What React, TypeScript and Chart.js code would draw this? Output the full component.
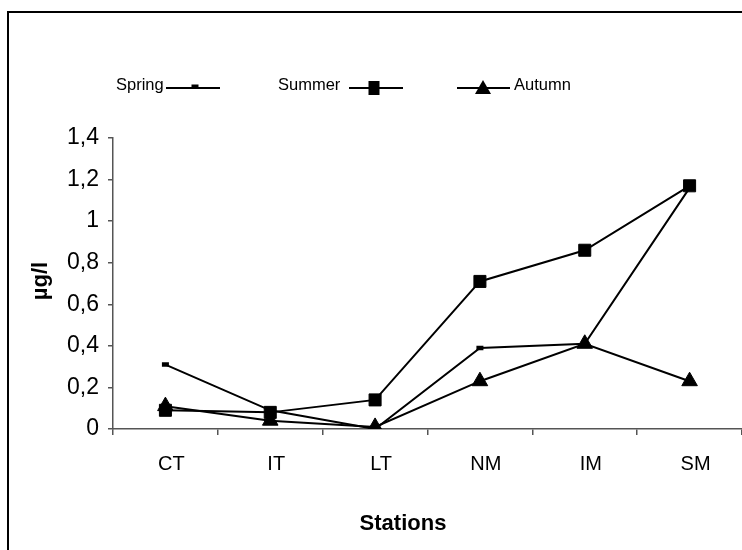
import React, { useEffect, useRef } from "react";
import { Chart, registerables } from "chart.js";

Chart.register(...registerables);

const stations = ["CT", "IT", "LT", "NM", "IM", "SM"];
const springValues = [0.31, 0.09, 0.0, 0.39, 0.41, 1.16];
const summerValues = [0.09, 0.08, 0.14, 0.71, 0.86, 1.17];
const autumnValues = [0.11, 0.04, 0.01, 0.23, 0.41, 0.23];
const seriesNames = ["Spring", "Summer", "Autumn"];
const yTickValues = [0, 0.2, 0.4, 0.6, 0.8, 1, 1.2, 1.4];
const yTitle = "µg/l";
const xTitle = "Stations";

const FONT = "'Liberation Sans', Arial, sans-serif";

const legendLayout = [
  { textX: 116, lineFrom: 166, lineTo: 220, markerX: 195 },
  { textX: 278, lineFrom: 349, lineTo: 403, markerX: 374 },
  { textX: 514, lineFrom: 457, lineTo: 510, markerX: 483 },
];

function drawMarker(ctx: CanvasRenderingContext2D, style: string, x: number, y: number) {
  ctx.save();
  ctx.fillStyle = "#000";
  if (style === "line") {
    ctx.fillRect(x - 3.5, y - 2.5, 7, 4);
  } else if (style === "rect") {
    ctx.fillRect(x - 5.5, y - 7, 11, 14);
  } else if (style === "triangle") {
    ctx.beginPath();
    ctx.moveTo(x, y - 8);
    ctx.lineTo(x + 8, y + 6);
    ctx.lineTo(x - 8, y + 6);
    ctx.closePath();
    ctx.fill();
  }
  ctx.restore();
}

const customDecor = {
  id: "customDecor",
  afterDraw(chart: any) {
    const ctx: CanvasRenderingContext2D = chart.ctx;
    ctx.save();
    // legend
    const ly = 88;
    ctx.font = `16.5px ${FONT}`;
    ctx.textBaseline = "middle";
    ctx.fillStyle = "#000";
    chart.data.datasets.forEach((ds: any, i: number) => {
      const l = legendLayout[i];
      ctx.textAlign = "left";
      ctx.fillText(ds.label, l.textX, ly - 3);
      ctx.strokeStyle = "#000";
      ctx.lineWidth = 2;
      ctx.beginPath();
      ctx.moveTo(l.lineFrom, ly);
      ctx.lineTo(l.lineTo, ly);
      ctx.stroke();
      drawMarker(ctx, ds.pointStyle, l.markerX, ly - (ds.pointStyle === "line" ? 1 : 0));
    });
    // axis titles
    ctx.fillStyle = "#000";
    ctx.font = `bold 22px ${FONT}`;
    ctx.textAlign = "center";
    ctx.textBaseline = "middle";
    ctx.save();
    ctx.translate(41, 281);
    ctx.rotate(-Math.PI / 2);
    ctx.fillText(yTitle, 0, 0);
    ctx.restore();
    ctx.font = `bold 22px ${FONT}`;
    ctx.fillText(xTitle, 403, 524);
    ctx.restore();
  },
};

export default function App() {
  const ref = useRef<HTMLCanvasElement | null>(null);
  useEffect(() => {
    if (!ref.current) return;
    const common = {
      borderColor: "#000",
      backgroundColor: "#000",
      borderWidth: 2,
      pointBackgroundColor: "#000",
      pointBorderColor: "#000",
      tension: 0,
    };
    const chart = new Chart(ref.current, {
      type: "line",
      data: {
        labels: stations,
        datasets: [
          { ...common, label: seriesNames[0], data: springValues, pointStyle: "line", pointRadius: 3.5, pointBorderWidth: 4.5 },
          { ...common, label: seriesNames[1], data: summerValues, pointStyle: "rect", pointRadius: 8.5, pointBorderWidth: 1 },
          { ...common, label: seriesNames[2], data: autumnValues, pointStyle: "triangle", pointRadius: 9, pointBorderWidth: 1 },
        ],
      },
      options: {
        responsive: false,
        animation: false,
        devicePixelRatio: 1,
        layout: { autoPadding: false, padding: { top: 138, left: 0, right: 0, bottom: 0 } },
        plugins: { legend: { display: false }, tooltip: { enabled: false }, title: { display: false } },
        scales: {
          x: {
            type: "category",
            offset: true,
            afterFit: (s: any) => { s.height = 121; s.paddingLeft = 0; s.paddingRight = 0; },
            grid: { offset: true, drawOnChartArea: false, drawTicks: true, tickLength: 6, color: "#555", lineWidth: 1.5 },
            border: { color: "#555", width: 1.5 },
            ticks: { color: "#000", font: { family: FONT, size: 20 }, padding: 17, maxRotation: 0, labelOffset: 6 },
          },
          y: {
            type: "linear",
            min: 0,
            max: 1.4,
            afterFit: (s: any) => { s.width = 113; s.paddingTop = 0; s.paddingBottom = 0; },
            afterBuildTicks: (s: any) => { s.ticks = yTickValues.map((v) => ({ value: v })); },
            grid: { drawOnChartArea: false, drawTicks: true, tickLength: 5, color: "#555", lineWidth: 1.5 },
            border: { color: "#555", width: 1.5 },
            ticks: {
              color: "#000",
              font: { family: FONT, size: 23 },
              padding: 9,
              callback: (v: any) => String(Math.round(Number(v) * 10) / 10).replace(".", ","),
            },
          },
        },
      },
      plugins: [customDecor],
    } as any);
    return () => chart.destroy();
  }, []);
  return (
    <div style={{ position: "fixed", left: 0, top: 0, width: 742, height: 550, background: "#fff", overflow: "hidden" }}>
      <div style={{ position: "absolute", left: 7, top: 11, width: 760, height: 560, border: "2.5px solid #000", boxSizing: "border-box" }} />
      <canvas ref={ref} width={742} height={550} style={{ position: "absolute", left: 0, top: 0 }} />
    </div>
  );
}
